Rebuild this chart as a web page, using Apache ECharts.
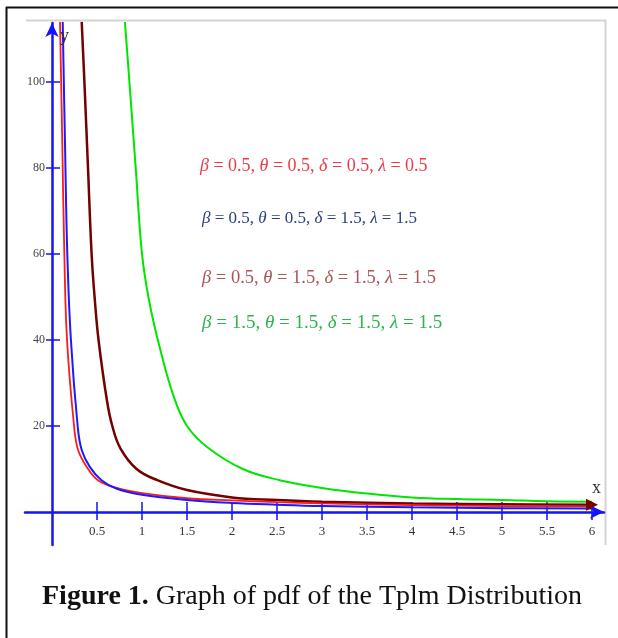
<!DOCTYPE html>
<html>
<head>
<meta charset="utf-8">
<script src="https://cdn.jsdelivr.net/npm/echarts@6/dist/echarts.min.js"></script>
<style>
  html, body { margin: 0; padding: 0; background: #fff; }
  #chart { width: 618px; height: 638px; }
</style>
</head>
<body>
<div id="chart"></div>
<script>
// tick values
var xTicks = [0.5, 1, 1.5, 2, 2.5, 3, 3.5, 4, 4.5, 5, 5.5, 6];
var yTicks = [20, 40, 60, 80, 100];

// curves (x, pdf)
var redX = [0.089, 0.115, 0.137, 0.167, 0.245, 0.29, 0.385, 0.51, 0.72, 1, 1.5, 2, 2.5, 3, 4, 5, 6];
var redY = [114, 85, 60, 40, 20, 14.4, 10.5, 7.4, 5.6, 4.4, 3.2, 2.7, 2.3, 2.0, 1.6, 1.4, 1.3];

var blueX = [0.119, 0.145, 0.17, 0.21, 0.285, 0.33, 0.42, 0.55, 0.72, 1, 1.5, 2, 2.5, 3, 4, 5, 6];
var blueY = [114, 85, 60, 40, 20, 14.4, 10.5, 7.4, 5.4, 4.0, 2.8, 2.1, 1.7, 1.4, 1.1, 0.9, 0.8];

var brownX = [0.33, 0.36, 0.40, 0.44, 0.477, 0.517, 0.61, 0.67, 0.76, 0.94, 1.17, 1.5, 2, 2.5, 3, 4, 5, 6];
var brownY = [114, 100, 80, 60, 49, 40, 26, 20, 14.8, 10, 7.4, 5.1, 3.4, 2.8, 2.4, 2.0, 1.8, 1.7];

var greenX = [0.81, 0.86, 0.93, 1.0, 1.08, 1.2, 1.35, 1.5, 1.73, 2.12, 2.53, 3, 3.5, 4, 4.5, 5, 5.5, 6];
var greenY = [114, 100, 80, 60, 49, 38, 27, 20, 15, 10, 7.4, 5.6, 4.3, 3.4, 3.0, 2.8, 2.5, 2.4];

var legendLines = [
    '{g|β} = 0.5, {g|θ} = 0.5, {g|δ} = 0.5, {g|λ} = 0.5',
    '{g|β} = 0.5, {g|θ} = 0.5, {g|δ} = 1.5, {g|λ} = 1.5',
    '{g|β} = 0.5, {g|θ} = 1.5, {g|δ} = 1.5, {g|λ} = 1.5',
    '{g|β} = 1.5, {g|θ} = 1.5, {g|δ} = 1.5, {g|λ} = 1.5'
];

function pairs(xs, ys) {
    var out = [];
    for (var i = 0; i < xs.length; i++) out.push([xs[i], ys[i]]);
    return out;
}

var FONT = 'Liberation Serif';
var AXIS_BLUE = '#1414f5';

function legendText(line, x, y, size, color) {
    return {
        type: 'text', x: x, y: y, z: 20,
        style: {
            text: line, fill: color, fontFamily: FONT, fontSize: size, verticalAlign: 'middle',
            rich: {
                g: {fontFamily: FONT, fontSize: size, fontStyle: 'italic', fill: color}
            }
        }
    };
}

function curve(name, xs, ys, color, width) {
    return {
        name: name, type: 'line', smooth: 0.4, symbol: 'none',
        lineStyle: {color: color, width: width},
        data: pairs(xs, ys)
    };
}

var myChart = echarts.init(document.getElementById('chart'));

var brownSeries = curve('brown', brownX, brownY, '#750000', 2.5);
// arrow head drawn by the plot at the end of this curve
brownSeries.data[brownSeries.data.length - 1] = {
    value: brownSeries.data[brownSeries.data.length - 1],
    symbol: 'triangle', symbolRotate: -90, symbolSize: [12, 12],
    itemStyle: {color: '#7a0000'}
};
brownSeries.showSymbol = true;

var option = {
    backgroundColor: '#fff',
    animation: false,
    grid: {left: 25, right: 14, top: 23, bottom: 93},
    xAxis: [{
        type: 'value', min: -0.3, max: 6.133,
        position: 'bottom', offset: -33,
        axisLine: {onZero: false, lineStyle: {color: AXIS_BLUE, width: 2.5},
            symbol: ['none', 'arrow'], symbolSize: [10, 14], symbolOffset: [0, 0]},
        axisTick: {show: true, length: 8, lineStyle: {color: AXIS_BLUE, width: 1.5},
            customValues: xTicks},
        axisLabel: {customValues: xTicks, color: '#333', fontFamily: FONT, fontSize: 13, margin: 13},
        splitLine: {show: false}
    }, {
        type: 'value', min: -0.3, max: 6.133,
        position: 'top', offset: -489,
        axisLine: {onZero: false, show: false},
        axisTick: {show: true, length: 10, lineStyle: {color: AXIS_BLUE, width: 1.5},
            customValues: xTicks},
        axisLabel: {show: false},
        splitLine: {show: false}
    }],
    yAxis: [{
        type: 'value', min: -7.67, max: 113.7,
        position: 'left', offset: -27,
        axisLine: {onZero: false, lineStyle: {color: AXIS_BLUE, width: 2.5},
            symbol: ['none', 'arrow'], symbolSize: [10, 14], symbolOffset: [0, 0]},
        axisTick: {show: true, length: 6, lineStyle: {color: AXIS_BLUE, width: 1.5},
            customValues: yTicks},
        axisLabel: {customValues: yTicks, color: '#444', fontFamily: FONT, fontSize: 12, margin: 7},
        splitLine: {show: false}
    }, {
        type: 'value', min: -7.67, max: 113.7,
        position: 'right', offset: -552,
        axisLine: {onZero: false, show: false},
        axisTick: {show: true, length: 8, lineStyle: {color: AXIS_BLUE, width: 1.5},
            customValues: yTicks},
        axisLabel: {show: false},
        splitLine: {show: false}
    }],
    series: [
        curve('green', greenX, greenY, '#00e600', 2),
        brownSeries,
        curve('red', redX, redY, '#ff1a1a', 1.8),
        curve('blue', blueX, blueY, '#1a1aff', 2)
    ],
    graphic: [
        // outer black frame (top and left)
        {type: 'line', shape: {x1: 6, y1: 7.5, x2: 618, y2: 7.5}, style: {stroke: '#111', lineWidth: 2}},
        {type: 'line', shape: {x1: 6.5, y1: 7, x2: 6.5, y2: 638}, style: {stroke: '#111', lineWidth: 2}},
        // grey plot frame
        {type: 'line', shape: {x1: 26, y1: 20.5, x2: 606, y2: 20.5}, style: {stroke: '#d4d4d4', lineWidth: 2}},
        {type: 'line', shape: {x1: 605.5, y1: 20, x2: 605.5, y2: 545}, style: {stroke: '#d4d4d4', lineWidth: 2}},
        // axis names
        {type: 'text', x: 60, y: 27, z: 20, style: {text: 'y', fill: '#333', fontFamily: FONT, fontSize: 18}},
        {type: 'text', x: 592, y: 479, z: 20, style: {text: 'x', fill: '#333', fontFamily: FONT, fontSize: 18}},
        legendText(legendLines[0], 200, 166, 18, '#ee3a48'),
        legendText(legendLines[1], 202, 219, 17, '#2e3d7c'),
        legendText(legendLines[2], 202, 278, 18.5, '#a85656'),
        legendText(legendLines[3], 202, 323, 19, '#2eb34c'),
        {
            type: 'text', x: 42, y: 597, z: 20,
            style: {
                text: '{b|Figure 1.} Graph of pdf of the Tplm Distribution',
                fill: '#111', fontFamily: FONT, fontSize: 28, verticalAlign: 'middle',
                rich: {b: {fontFamily: FONT, fontSize: 28, fontWeight: 'bold', fill: '#111'}}
            }
        }
    ]
};

myChart.setOption(option);
</script>
</body>
</html>
